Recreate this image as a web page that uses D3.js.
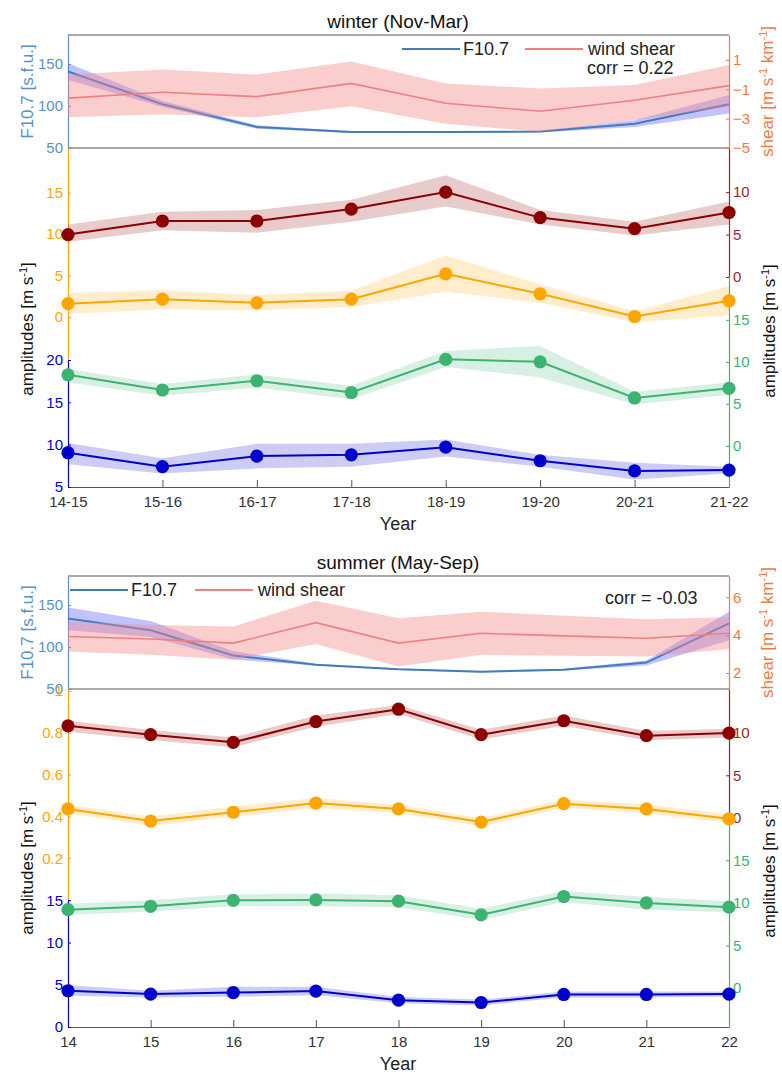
<!DOCTYPE html>
<html>
<head>
<meta charset="utf-8">
<script src="https://cdn.jsdelivr.net/npm/d3@7"></script>
<style>
  body { margin: 0; background: #fff; }
  svg { font-family: "Liberation Sans", Arial, sans-serif; }
</style>
</head>
<body>
<svg id="chart" width="782" height="1072"></svg>
<script>
// ---- winter (Nov-Mar) ----
const winterYears = ['14-15', '15-16', '16-17', '17-18', '18-19', '19-20', '20-21', '21-22'];

const winterF107   = [141, 102, 75, 69, 69, 69.5, 79, 102];
const winterF107Lo = [131, 99, 73, 68, 68, 68.5, 75, 91];
const winterF107Hi = [151, 106, 77, 70, 70, 70.5, 83, 113];

const winterShear   = [-1.6, -1.2, -1.5, -0.6, -1.95, -2.5, -1.75, -0.75];
const winterShearLo = [-2.9, -2.7, -2.9, -2.15, -3.35, -3.9, -3.1, -2.2];
const winterShearHi = [0.0, 0.35, 0.0, 0.9, -0.6, -0.95, -0.7, 0.65];

const winterDarkRed   = [5.0, 6.6, 6.6, 8.0, 10.0, 7.0, 5.7, 7.6];
const winterDarkRedLo = [4.15, 5.5, 5.2, 6.5, 8.3, 6.2, 4.9, 6.2];
const winterDarkRedHi = [6.2, 7.7, 7.9, 9.1, 12.0, 7.9, 6.5, 8.9];

const winterOrange   = [1.6, 2.15, 1.7, 2.15, 5.2, 2.8, 0.05, 1.95];
const winterOrangeLo = [0.4, 0.9, 0.8, 1.2, 3.05, 1.7, -0.65, 0.2];
const winterOrangeHi = [2.9, 3.25, 2.65, 3.15, 7.4, 3.95, 0.7, 3.7];

const winterGreen   = [8.45, 6.65, 7.75, 6.35, 10.3, 10.0, 5.7, 6.85];
const winterGreenLo = [7.55, 5.95, 6.95, 5.55, 9.4, 8.15, 4.95, 6.05];
const winterGreenHi = [9.15, 7.35, 8.5, 7.15, 11.3, 11.9, 6.45, 7.55];

const winterBlue   = [9.05, 7.4, 8.65, 8.8, 9.7, 8.1, 6.9, 7.0];
const winterBlueLo = [7.7, 6.6, 7.2, 7.4, 8.6, 7.4, 5.9, 6.6];
const winterBlueHi = [10.2, 8.4, 10.1, 10.1, 10.6, 8.8, 7.85, 7.4];

// ---- summer (May-Sep) ----
const summerYears = ['14', '15', '16', '17', '18', '19', '20', '21', '22'];

const summerF107   = [134, 120, 90, 79, 73.5, 70.5, 73, 81.5, 128];
const summerF107Lo = [120, 112, 85, 78, 72.5, 69.5, 72, 78, 108];
const summerF107Hi = [147, 131, 95, 80, 74.5, 71.5, 74, 84, 142];

const summerShear   = [3.93, 3.8, 3.58, 4.66, 3.58, 4.1, 3.96, 3.84, 4.1];
const summerShearLo = [3.14, 2.96, 2.7, 3.54, 2.35, 2.96, 2.91, 2.88, 3.27];
const summerShearHi = [4.72, 4.54, 4.45, 5.82, 4.89, 5.24, 5.02, 4.84, 4.95];

const summerDarkRed   = [10.8, 9.77, 8.87, 11.3, 12.75, 9.77, 11.4, 9.65, 9.95];
const summerDarkRedLo = [10.1, 9.15, 8.3, 10.7, 12.2, 9.2, 10.8, 9.1, 9.45];
const summerDarkRedHi = [11.4, 10.3, 9.45, 12.0, 13.25, 10.35, 12.0, 10.2, 10.45];

const summerOrange   = [0.436, 0.378, 0.42, 0.464, 0.436, 0.373, 0.461, 0.436, 0.389];
const summerOrangeLo = [0.414, 0.354, 0.398, 0.44, 0.416, 0.353, 0.441, 0.414, 0.37];
const summerOrangeHi = [0.456, 0.40, 0.449, 0.488, 0.456, 0.393, 0.481, 0.458, 0.41];

const summerGreen   = [9.2, 9.6, 10.3, 10.35, 10.2, 8.6, 10.75, 10.0, 9.5];
const summerGreenLo = [8.6, 9.0, 9.6, 9.6, 9.5, 8.0, 10.1, 9.2, 8.9];
const summerGreenHi = [9.9, 10.3, 11.0, 11.1, 10.9, 9.3, 11.4, 10.7, 10.2];

const summerBlue   = [4.29, 3.9, 4.08, 4.25, 3.18, 2.9, 3.85, 3.85, 3.9];
const summerBlueLo = [3.7, 3.5, 3.57, 3.75, 2.8, 2.55, 3.5, 3.5, 3.6];
const summerBlueHi = [4.96, 4.3, 4.76, 4.75, 3.55, 3.25, 4.2, 4.2, 4.2];

// tick labels
const f107Ticks = [50, 100, 150];
const winterShearTicks = [-5, -3, -1, 1];
const summerShearTicks = [2, 4, 6];

const svg = d3.select('#chart');

const X0 = 68, X1 = 729;
const C = {
  f107: '#3f7dc0', f107Axis: '#5b8fc9', f107Band: '#6666ff',
  shear: '#f08080', shearAxis: '#ef7a45', shearBand: '#f58a8a',
  darkred: '#8b0000', darkredAxis: '#9b2525',
  orange: '#ffa500', green: '#3cb371', blue: '#0000cd'
};

function drawSeason(s) {
  const g = svg.append('g');
  const x = d3.scalePoint().domain(s.years).range([X0, X1]);

  // --- top panel: F10.7 and shear
  const yF = d3.scaleLinear().domain([50, 184.5]).range([s.mid, s.top]);
  const yS = d3.scaleLinear().domain(s.shearDomain).range([s.mid, s.top]);

  g.append('line').attr('x1', X0).attr('x2', X1).attr('y1', s.top).attr('y2', s.top)
    .attr('stroke', '#555').attr('stroke-width', 1.2);
  g.append('line').attr('x1', X0).attr('x2', X1).attr('y1', s.mid).attr('y2', s.mid)
    .attr('stroke', '#555').attr('stroke-width', 1.2);

  function band(sel, scale, lo, hi, fill, op) {
    const area = d3.area()
      .x((d, i) => x(s.years[i]))
      .y0((d, i) => scale(lo[i]))
      .y1((d, i) => scale(hi[i]));
    sel.append('path').datum(lo).attr('d', area).attr('fill', fill).attr('fill-opacity', op);
  }
  function line(sel, scale, vals, stroke, w) {
    const ln = d3.line().x((d, i) => x(s.years[i])).y(d => scale(d));
    sel.append('path').datum(vals).attr('d', ln)
      .attr('fill', 'none').attr('stroke', stroke).attr('stroke-width', w);
  }
  function yAxis(sel, scale, ticks, color, side, fmt) {
    const ax = (side === 'left' ? d3.axisLeft(scale) : d3.axisRight(scale))
      .tickValues(ticks).tickSize(-3).tickSizeOuter(0).tickPadding(side === 'left' ? 5 : 4)
      .tickFormat(fmt || d3.format('d'));
    const a = sel.append('g')
      .attr('transform', `translate(${side === 'left' ? X0 : X1},0)`)
      .call(ax);
    a.select('.domain').attr('stroke', color).attr('stroke-width', 1.2);
    a.selectAll('.tick line').attr('stroke', color);
    a.selectAll('.tick text').attr('fill', color).style('font-size', '15px');
    return a;
  }

  yAxis(g, yF, f107Ticks, C.f107Axis, 'left');
  yAxis(g, yS, s.shearTicks, C.shearAxis, 'right');

  band(g, yF, s.f107Lo, s.f107Hi, C.f107Band, 0.4);
  line(g, yF, s.f107, C.f107, 2);
  band(g, yS, s.shearLo, s.shearHi, C.shearBand, 0.42);
  line(g, yS, s.shear, C.shear, 1.6);

  // --- bottom panel: four stacked amplitude axes
  const yO = d3.scaleLinear().domain(s.orangeDomain).range(s.orangeRange);
  const yB = d3.scaleLinear().domain(s.blueDomain).range([s.base, s.orangeRange[0]]);
  const yR = d3.scaleLinear().domain(s.darkredDomain).range(s.darkredRange);
  const yG = d3.scaleLinear().domain(s.greenDomain).range([s.base, s.darkredRange[0]]);

  const xa = g.append('g').attr('transform', `translate(0,${s.base})`)
    .call(d3.axisBottom(x).tickSize(-7).tickSizeOuter(0).tickPadding(9));
  xa.select('.domain').attr('stroke', '#555').attr('stroke-width', 1.2);
  xa.selectAll('.tick line').attr('stroke', '#555');
  xa.selectAll('.tick text').attr('fill', '#333').style('font-size', '15px');

  yAxis(g, yO, s.orangeTicks, C.orange, 'left', s.orangeFmt);
  yAxis(g, yB, s.blueTicks, C.blue, 'left');
  yAxis(g, yR, s.darkredTicks, C.darkredAxis, 'right');
  yAxis(g, yG, s.greenTicks, C.green, 'right');

  const series = [
    [yB, s.blue, s.blueLo, s.blueHi, C.blue],
    [yG, s.green, s.greenLo, s.greenHi, C.green],
    [yO, s.orange, s.orangeLo, s.orangeHi, C.orange],
    [yR, s.darkred, s.darkredLo, s.darkredHi, C.darkred]
  ];
  series.forEach(([sc, v, lo, hi, col]) => {
    band(g, sc, lo, hi, col, 0.2);
    line(g, sc, v, col, 2);
    g.append('g').selectAll('circle').data(v).join('circle')
      .attr('cx', (d, i) => x(s.years[i]))
      .attr('cy', d => sc(d))
      .attr('r', 6.6)
      .attr('fill', col);
  });

  // --- texts
  g.append('text').attr('x', 398).attr('y', s.top - 7).attr('text-anchor', 'middle')
    .style('font-size', '19px').attr('fill', '#111').text(s.title);

  g.append('text').attr('x', 398).attr('y', s.base + 43).attr('text-anchor', 'middle')
    .style('font-size', '18px').attr('fill', '#222').text('Year');

  function vLabel(cx, cy, color, parts) {
    const t = g.append('text')
      .attr('transform', `translate(${cx},${cy}) rotate(-90)`)
      .attr('text-anchor', 'middle').attr('dy', '0.35em')
      .style('font-size', '17px').attr('fill', color);
    parts.forEach(p => {
      const ts = t.append('tspan').text(p.t);
      if (p.sup) ts.attr('baseline-shift', 'super').style('font-size', '11px');
    });
  }
  const midTop = (s.top + s.mid) / 2;
  vLabel(27, midTop, C.f107Axis, [{ t: 'F10.7 [s.f.u.]' }]);
  vLabel(767, midTop, C.shearAxis, [{ t: 'shear [m s' }, { t: '-1', sup: true }, { t: ' km' }, { t: '-1', sup: true }, { t: ']' }]);
  const amp = [{ t: 'amplitudes [m s' }, { t: '-1', sup: true }, { t: ']' }];
  vLabel(27, s.ampLeftY, '#111', amp);
  vLabel(769, s.ampRightY, '#111', amp);

  // legend
  const L = s.legend;
  g.append('line').attr('x1', L.x1).attr('x2', L.x1 + 58).attr('y1', L.y).attr('y2', L.y)
    .attr('stroke', C.f107).attr('stroke-width', 2);
  g.append('text').attr('x', L.x1 + 61).attr('y', L.y + 6).style('font-size', '18px')
    .attr('fill', '#222').text('F10.7');
  g.append('line').attr('x1', L.x2).attr('x2', L.x2 + 58).attr('y1', L.y).attr('y2', L.y)
    .attr('stroke', C.shear).attr('stroke-width', 2);
  g.append('text').attr('x', L.x2 + 63).attr('y', L.y + 6).style('font-size', '18px')
    .attr('fill', '#222').text('wind shear');
  g.append('text').attr('x', s.corr.x).attr('y', s.corr.y).style('font-size', '18px')
    .attr('fill', '#222').text(s.corr.text);
}

drawSeason({
  title: 'winter (Nov-Mar)', years: winterYears,
  top: 35, mid: 148, base: 487,
  f107: winterF107, f107Lo: winterF107Lo, f107Hi: winterF107Hi,
  shear: winterShear, shearLo: winterShearLo, shearHi: winterShearHi,
  shearDomain: [-5, 2.7], shearTicks: winterShearTicks,
  darkred: winterDarkRed, darkredLo: winterDarkRedLo, darkredHi: winterDarkRedHi,
  orange: winterOrange, orangeLo: winterOrangeLo, orangeHi: winterOrangeHi,
  green: winterGreen, greenLo: winterGreenLo, greenHi: winterGreenHi,
  blue: winterBlue, blueLo: winterBlueLo, blueHi: winterBlueHi,
  orangeDomain: [-5.2, 20.4], orangeRange: [360, 148], orangeTicks: [0, 5, 10, 15],
  blueDomain: [5, 20], blueTicks: [5, 10, 15, 20],
  darkredDomain: [0, 15.2], darkredRange: [277, 148], darkredTicks: [0, 5, 10],
  greenDomain: [-4.9, 20.1], greenTicks: [0, 5, 10, 15],
  ampLeftY: 329, ampRightY: 331,
  legend: { x1: 402, x2: 525, y: 49 },
  corr: { x: 587, y: 74, text: 'corr = 0.22' }
});

drawSeason({
  title: 'summer (May-Sep)', years: summerYears,
  top: 576, mid: 689, base: 1027,
  f107: summerF107, f107Lo: summerF107Lo, f107Hi: summerF107Hi,
  shear: summerShear, shearLo: summerShearLo, shearHi: summerShearHi,
  shearDomain: [1.16, 7.12], shearTicks: summerShearTicks,
  darkred: summerDarkRed, darkredLo: summerDarkRedLo, darkredHi: summerDarkRedHi,
  orange: summerOrange, orangeLo: summerOrangeLo, orangeHi: summerOrangeHi,
  green: summerGreen, greenLo: summerGreenLo, greenHi: summerGreenHi,
  blue: summerBlue, blueLo: summerBlueLo, blueHi: summerBlueHi,
  orangeDomain: [0, 1.01], orangeRange: [900, 689], orangeTicks: [0.2, 0.4, 0.6, 0.8, 1],
  orangeFmt: d => (d === 1 ? '1' : d3.format('.1f')(d)),
  blueDomain: [0, 15.03], blueTicks: [0, 5, 10, 15],
  darkredDomain: [0, 15.12], darkredRange: [818, 689], darkredTicks: [0, 5, 10],
  greenDomain: [-4.58, 19.97], greenTicks: [0, 5, 10, 15],
  ampLeftY: 868, ampRightY: 871,
  legend: { x1: 70, x2: 195, y: 590 },
  corr: { x: 605, y: 604, text: 'corr = -0.03' }
});
</script>
</body>
</html>
